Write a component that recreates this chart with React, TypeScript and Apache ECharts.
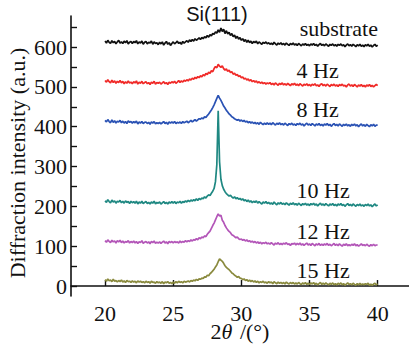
import React, { useEffect, useRef } from "react";
import * as echarts from "echarts";

// 2θ sampling: 20.0° to 40.0° in 0.1° steps (201 samples per trace)
const THETA_START = 20;
const THETA_STEP = 0.1;

const SERIES_NAMES = ["substrate", "4 Hz", "8 Hz", "10 Hz", "12 Hz", "15 Hz"];
const SERIES_COLORS = ["#111111", "#f02a28", "#2a52b4", "#1f8882", "#b356b8", "#8a8a3e"];

// label anchor positions in data units [2θ, intensity]
const LABEL_COORDS: [number, number][] = [
  [37.15, 646],
  [35.6, 540],
  [35.6, 442],
  [36.0, 241],
  [36.0, 136],
  [36.0, 38],
];

const Y_LABELS = [0, 100, 200, 300, 400, 500, 600];
const Y_TICKS = [0, 50, 100, 150, 200, 250, 300, 350, 400, 450, 500, 550, 600, 650];
const X_TICKS = [20, 25, 30, 35, 40];

const substrate = [
  615, 610, 617, 612, 609, 616, 611, 614, 608, 613,
  617, 610, 613, 609, 615, 611, 616, 608, 612, 614,
  609, 614, 611, 616, 608, 613, 610, 615, 607, 612,
  614, 608, 612, 610, 615, 607, 613, 609, 611, 606,
  612, 608, 613, 605, 610, 614, 607, 611, 604, 609,
  613, 608, 611, 615, 609, 612, 607, 614, 610, 613,
  616, 612, 618, 614, 619, 615, 621, 617, 620, 623,
  619, 624, 621, 626, 623, 629, 625, 631, 628, 634,
  632, 638, 635, 643, 637, 648, 639, 645, 634, 641,
  633, 637, 629, 634, 626, 630, 622, 627, 620, 624,
  617, 621, 614, 619, 612, 617, 611, 615, 609, 614,
  611, 615, 608, 613, 610, 607, 612, 609, 613, 608,
  611, 607, 610, 606, 612, 608, 605, 610, 607, 611,
  606, 609, 605, 610, 607, 604, 609, 606, 610, 605,
  608, 604, 609, 606, 603, 608, 605, 609, 604, 607,
  603, 608, 605, 609, 604, 607, 602, 606, 609, 604,
  607, 603, 608, 605, 602, 607, 604, 608, 603, 606,
  602, 607, 604, 608, 603, 606, 601, 605, 608, 603,
  606, 602, 607, 604, 601, 606, 603, 607, 602, 605,
  601, 606, 603, 607, 602, 605, 600, 604, 607, 602,
  605,
];

const hz4 = [
  516, 512, 518, 513, 510, 517, 511, 515, 509, 514,
  511, 516, 510, 514, 508, 513, 509, 515, 510, 512,
  508, 513, 510, 515, 507, 512, 509, 514, 508, 511,
  513, 508, 511, 506, 512, 509, 514, 507, 511, 509,
  512, 507, 510, 513, 508, 511, 506, 512, 509, 513,
  510, 514, 509, 512, 516, 511, 515, 512, 517, 514,
  518, 515, 520, 517, 522, 519, 524, 521, 526, 523,
  528, 525, 531, 528, 534, 531, 537, 534, 541, 538,
  546, 551, 548, 557, 552, 549, 553, 546, 542, 545,
  539, 542, 536, 538, 532, 534, 529, 531, 526, 528,
  523, 525, 520, 522, 517, 520, 515, 518, 513, 516,
  512, 515, 510, 513, 509, 512, 508, 511, 507, 510,
  508, 511, 506, 509, 505, 510, 507, 504, 509, 506,
  510, 505, 508, 504, 509, 506, 503, 508, 505, 509,
  504, 507, 503, 508, 505, 502, 507, 504, 508, 503,
  506, 502, 507, 504, 508, 503, 505, 501, 506, 508,
  503, 506, 502, 507, 504, 501, 506, 503, 507, 502,
  505, 501, 506, 503, 507, 502, 504, 500, 505, 507,
  502, 505, 501, 506, 503, 500, 505, 502, 506, 501,
  504, 500, 505, 502, 506, 501, 504, 500, 503, 506,
  503,
];

const hz8 = [
  416, 412, 418, 413, 410, 417, 411, 415, 409, 414,
  412, 416, 410, 414, 409, 413, 408, 415, 411, 413,
  409, 413, 410, 414, 407, 412, 409, 413, 408, 411,
  412, 408, 411, 406, 412, 409, 413, 407, 410, 408,
  411, 407, 410, 413, 408, 411, 406, 412, 409, 412,
  409, 413, 408, 411, 409, 412, 408, 413, 410, 412,
  414, 410, 413, 416, 412, 415, 418, 414, 417, 420,
  419, 422, 420, 425, 423, 428, 432, 437, 442, 448,
  455, 463, 471, 479, 472, 466, 459, 452, 447, 441,
  437, 432, 429, 425, 423, 420, 418, 416, 418, 414,
  417, 413, 416, 412, 414, 410, 413, 409, 412, 408,
  411, 407, 410, 406, 411, 408, 405, 409, 406, 410,
  406, 409, 405, 410, 407, 404, 409, 406, 410, 405,
  408, 404, 409, 406, 403, 408, 405, 409, 404, 407,
  403, 408, 405, 409, 404, 407, 402, 406, 409, 404,
  407, 403, 408, 405, 402, 407, 404, 408, 403, 406,
  402, 407, 404, 408, 403, 406, 401, 405, 408, 403,
  406, 402, 407, 404, 401, 406, 403, 407, 402, 405,
  401, 406, 403, 407, 402, 405, 400, 404, 407, 402,
  405, 401, 406, 403, 400, 405, 402, 406, 401, 404,
  404,
];

const hz10 = [
  214, 210, 217, 212, 209, 216, 211, 214, 208, 213,
  211, 215, 209, 213, 208, 214, 210, 212, 207, 213,
  209, 212, 208, 213, 206, 211, 208, 213, 207, 210,
  212, 207, 210, 206, 211, 208, 213, 206, 210, 208,
  211, 206, 209, 212, 207, 210, 206, 211, 208, 212,
  208, 212, 207, 211, 209, 213, 208, 212, 210, 214,
  211, 215, 212, 216, 213, 217, 214, 219, 215, 220,
  217, 221, 219, 224, 221, 226, 229, 227, 233, 238,
  245, 262, 305, 440, 312, 268, 252, 243, 237, 232,
  229, 226, 228, 224, 221, 224, 219, 222, 218, 220,
  216, 219, 214, 217, 212, 216, 211, 214, 209, 213,
  210, 214, 208, 212, 209, 206, 211, 208, 212, 207,
  210, 206, 209, 205, 211, 207, 204, 209, 206, 210,
  205, 208, 204, 209, 206, 203, 208, 205, 209, 204,
  207, 203, 208, 205, 202, 207, 204, 208, 203, 206,
  202, 207, 204, 208, 203, 206, 201, 205, 208, 203,
  206, 202, 207, 204, 201, 206, 203, 207, 202, 205,
  201, 206, 203, 207, 202, 205, 200, 204, 207, 202,
  205, 201, 206, 203, 200, 205, 202, 206, 201, 204,
  200, 205, 202, 206, 201, 204, 199, 203, 206, 201,
  204,
];

const hz12 = [
  114, 110, 116, 112, 109, 115, 111, 113, 108, 114,
  111, 115, 109, 113, 108, 112, 110, 114, 108, 112,
  109, 113, 108, 112, 107, 111, 109, 114, 107, 110,
  112, 108, 111, 106, 112, 109, 113, 107, 110, 108,
  111, 107, 110, 113, 108, 111, 106, 112, 109, 112,
  108, 112, 109, 111, 108, 113, 109, 112, 110, 114,
  111, 114, 112, 116, 113, 117, 115, 119, 116, 121,
  119, 123, 121, 126, 124, 130, 134, 138, 145, 152,
  158, 166, 174, 181, 176, 178, 165, 160, 152, 146,
  141, 137, 134, 129, 127, 124, 121, 123, 119, 117,
  118, 115, 117, 113, 116, 112, 114, 110, 113, 109,
  112, 108, 111, 107, 110, 106, 109, 107, 110, 106,
  108, 105, 109, 106, 103, 108, 105, 109, 104, 107,
  104, 108, 105, 109, 104, 106, 102, 107, 105, 108,
  103, 107, 104, 108, 103, 106, 102, 105, 108, 103,
  106, 102, 107, 104, 101, 106, 103, 107, 102, 105,
  102, 106, 103, 107, 102, 105, 101, 104, 107, 102,
  105, 101, 106, 103, 100, 105, 102, 106, 101, 104,
  101, 105, 102, 106, 101, 104, 100, 103, 106, 102,
  104, 101, 105, 102, 100, 104, 101, 105, 101, 103,
  103,
];

const hz15 = [
  16, 12, 18, 13, 15, 11, 17, 12, 14, 10,
  14, 11, 15, 10, 13, 9, 14, 11, 12, 9,
  13, 10, 12, 8, 13, 10, 12, 9, 11, 8,
  12, 9, 11, 7, 12, 9, 10, 7, 11, 8,
  10, 7, 11, 6, 10, 8, 11, 7, 9, 6,
  10, 7, 11, 8, 12, 9, 11, 8, 12, 10,
  11, 13, 10, 14, 12, 15, 13, 17, 14, 18,
  17, 20, 19, 23, 22, 27, 26, 31, 34, 38,
  42, 48, 53, 61, 68, 65, 62, 57, 51, 47,
  44, 41, 37, 33, 31, 27, 25, 22, 24, 20,
  19, 16, 18, 14, 16, 12, 15, 11, 14, 10,
  13, 9, 12, 8, 11, 9, 12, 8, 10, 7,
  11, 8, 10, 6, 11, 8, 6, 10, 7, 9,
  6, 9, 5, 10, 7, 5, 9, 6, 9, 5,
  8, 5, 9, 6, 4, 8, 5, 9, 4, 7,
  4, 8, 5, 9, 4, 7, 3, 6, 9, 4,
  7, 4, 8, 5, 3, 7, 4, 8, 3, 6,
  3, 7, 4, 8, 3, 6, 2, 5, 8, 4,
  6, 3, 7, 4, 2, 6, 3, 7, 3, 5,
  3, 6, 4, 7, 2, 5, 2, 5, 7, 3,
  5,
];

const SERIES_VALUES = [substrate, hz4, hz8, hz10, hz12, hz15];

const FONT = "Liberation Serif, serif";
const SANS = "Liberation Sans, sans-serif";
const FS = 22;

export default function App() {
  const ref = useRef<HTMLDivElement>(null);
  useEffect(() => {
    if (!ref.current) return;
    const chart = echarts.init(ref.current, undefined, { renderer: "svg" });
    const series = SERIES_VALUES.map((vals, si) => ({
      type: "line",
      name: SERIES_NAMES[si],
      data: vals.map((v, i) => [+(THETA_START + i * THETA_STEP).toFixed(2), v]),
      showSymbol: false,
      symbol: "none",
      lineStyle: { color: SERIES_COLORS[si], width: 1.7 },
      itemStyle: { color: SERIES_COLORS[si] },
      z: 2,
      markPoint: {
        symbol: "circle",
        symbolSize: 0,
        silent: true,
        data: [
          {
            coord: LABEL_COORDS[si],
            label: {
              show: true,
              position: "inside",
              formatter: SERIES_NAMES[si],
              color: "#111",
              fontFamily: FONT,
              fontSize: FS,
            },
          },
        ],
      },
    }));
    chart.setOption({
      animation: false,
      backgroundColor: "#ffffff",
      textStyle: { fontFamily: FONT },
      grid: { left: 71, right: 0, top: 16, bottom: 51, containLabel: false, outerBoundsMode: "none" },
      xAxis: {
        type: "value",
        min: 17.5,
        max: 42.3,
        name: "2{i|θ}{s| /(°)}",
        nameLocation: "middle",
        nameGap: 26,
        nameMoveOverlap: false,
        nameTextStyle: {
          color: "#111",
          fontFamily: FONT,
          fontSize: FS,
          lineHeight: 18,
          verticalAlign: "top",
          rich: {
            i: { fontStyle: "italic", fontFamily: FONT, fontSize: FS, lineHeight: 18, color: "#111", padding: [0, 2, 0, 0] },
            s: { fontFamily: FONT, fontSize: FS, lineHeight: 18, color: "#111" },
          },
        },
        axisLine: { show: true, lineStyle: { color: "#111", width: 1.6 } },
        axisTick: { show: true, inside: true, length: 6, customValues: X_TICKS, lineStyle: { color: "#111", width: 1.4 } },
        axisLabel: { customValues: X_TICKS, color: "#111", fontSize: FS, lineHeight: 18, fontFamily: FONT, margin: 8 },
        splitLine: { show: false },
      },
      yAxis: {
        type: "value",
        min: -25,
        max: 678,
        axisLine: { show: true, lineStyle: { color: "#111", width: 1.6 } },
        axisTick: { show: true, inside: true, length: 6, customValues: Y_TICKS, lineStyle: { color: "#111", width: 1.4 } },
        axisLabel: { customValues: Y_LABELS, color: "#111", fontSize: FS, fontFamily: FONT, margin: 4 },
        splitLine: { show: false },
      },
      graphic: [
        {
          type: "text",
          x: 217,
          y: 14,
          style: { text: "Si(111)", fontSize: 20, fontFamily: SANS, fill: "#111", textAlign: "center", textVerticalAlign: "middle" },
        },
        {
          type: "text",
          x: 17,
          y: 163,
          rotation: Math.PI / 2,
          style: { text: "Diffraction intensity (a.u.)", fontSize: FS, fontFamily: FONT, fill: "#111", textAlign: "center", textVerticalAlign: "middle" },
        },
      ],
      series,
    });
    return () => chart.dispose();
  }, []);
  return <div ref={ref} style={{ position: "fixed", left: 0, top: 0, width: 409, height: 347 }} />;
}
